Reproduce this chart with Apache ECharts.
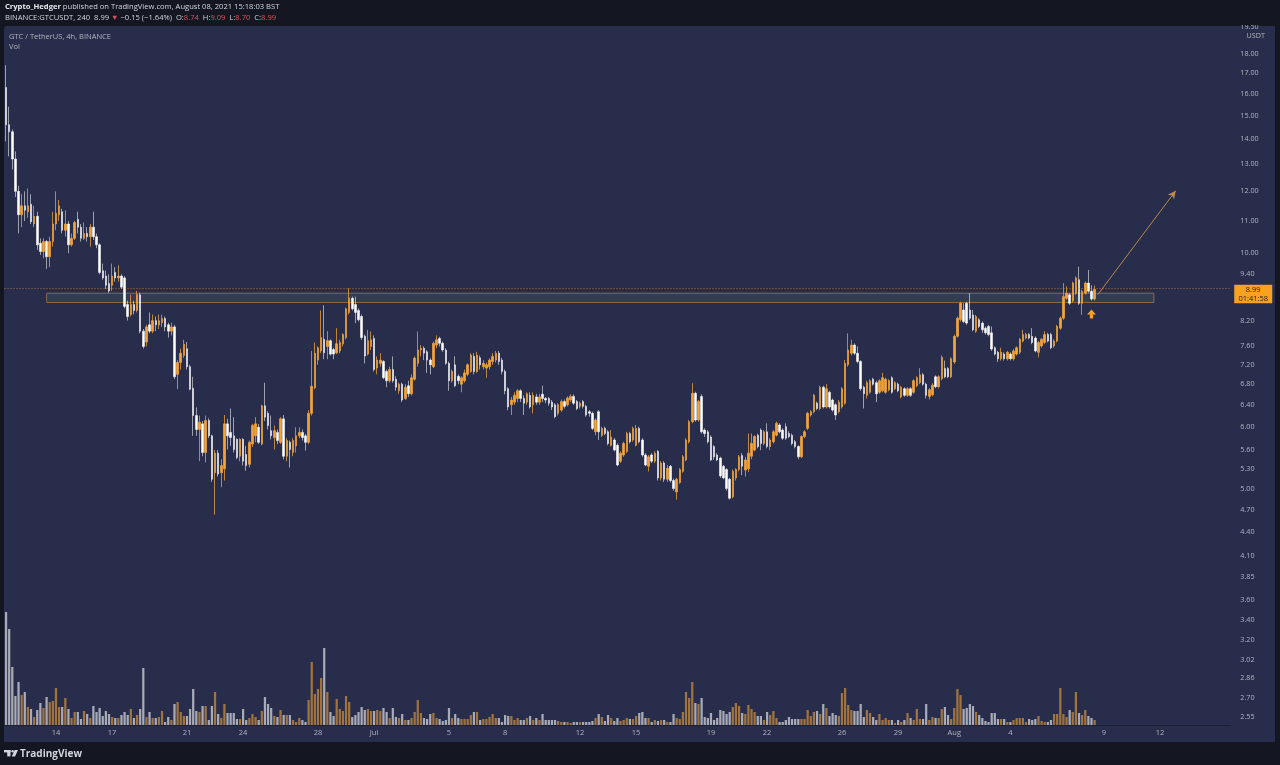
<!DOCTYPE html>
<html>
<head>
<meta charset="utf-8">
<script src="https://cdn.jsdelivr.net/npm/echarts@6/dist/echarts.min.js"></script>
<style>
html,body{margin:0;padding:0;background:#141722;}
#chart{width:1280px;height:765px;}
</style>
</head>
<body>
<div id="chart"></div>
<script>
// ---- GTC/USDT 4h candles (Binance) ----
const open = [
16.3,14.6,14.3,13.2,12.0,11.2,11.5,11.3,11.55,10.9,
11.15,10.3,10.05,10.35,9.9,10.35,10.9,11.2,11.3,10.7,
10.9,10.25,10.45,11.05,10.8,10.45,10.6,10.5,10.8,10.5,
10.25,9.5,9.35,9.15,9.1,9.45,9.3,9.35,9.3,8.6,
8.35,8.6,8.45,8.85,7.95,7.7,8.1,7.95,8.2,8.1,
8.15,8.25,8.1,7.95,8.05,7.0,7.25,7.4,7.55,7.16,
6.72,6.2,5.95,6.05,5.56,6.11,5.84,5.24,5.55,5.24,
5.3,6.05,5.9,5.84,5.78,5.5,5.78,5.53,5.37,5.7,
5.84,5.99,5.70,6.38,6.24,5.93,5.81,5.9,5.73,6.14,
5.5,5.73,5.56,5.67,5.84,5.9,5.84,5.73,6.24,6.73,
7.3,7.5,7.76,7.6,7.73,7.53,7.46,7.5,7.66,7.8,
8.4,8.76,8.6,8.45,8.3,7.83,7.43,7.6,7.78,7.13,
7.23,7.27,7.06,6.87,7.10,6.9,6.67,6.8,6.52,6.77,
6.61,6.9,7.23,7.52,7.56,7.48,7.3,7.16,7.63,7.78,
7.67,7.52,7.23,6.87,7.2,6.96,6.80,6.87,7.0,7.06,
7.38,7.06,7.35,7.16,7.13,7.16,7.27,7.30,7.45,7.3,
7.06,6.71,6.40,6.45,6.52,6.67,6.52,6.45,6.58,6.40,
6.55,6.45,6.6,6.52,6.52,6.45,6.40,6.24,6.30,6.46,
6.40,6.49,6.56,6.46,6.37,6.46,6.37,6.27,6.24,5.91,
6.27,5.85,5.97,5.91,5.68,5.77,5.68,5.42,5.52,5.58,
5.88,5.77,5.68,5.97,5.77,5.52,5.34,5.52,5.42,5.58,
5.16,5.39,5.14,5.34,5.12,4.95,5.09,5.26,5.44,5.74,
6.09,6.62,6.12,6.56,5.94,5.91,5.82,5.66,5.52,5.47,
5.34,5.29,5.14,4.88,5.16,5.29,5.51,5.28,5.30,5.50,
5.60,5.85,5.94,5.71,5.91,5.66,5.74,5.85,6.03,5.94,
6.0,5.88,5.85,5.74,5.66,5.49,5.83,5.97,6.21,6.27,
6.43,6.33,6.74,6.36,6.64,6.49,6.40,6.27,6.36,6.43,
7.20,7.45,7.63,7.45,7.27,6.74,6.58,6.64,6.90,6.83,
6.64,6.67,6.64,6.69,6.93,6.71,6.80,6.55,6.71,6.58,
6.71,6.64,6.77,6.83,6.99,6.80,6.56,6.59,6.95,6.75,
6.91,7.12,7.12,6.95,7.26,7.83,8.22,8.46,8.63,8.46,
8.34,7.95,8.22,8.14,8.02,8.06,7.91,7.57,7.47,7.33,
7.43,7.33,7.43,7.33,7.43,7.47,7.72,7.79,7.87,7.83,
7.79,7.47,7.61,7.69,7.87,7.87,7.61,7.72,8.02,8.26,
8.76,8.85,8.69,8.89,9.25,8.63,8.89,9.16,8.94,8.74
];
const high = [
17.4,15.4,14.4,13.5,12.2,11.9,12.0,12.1,11.9,11.5,
11.3,10.45,10.45,10.4,10.5,11.3,12.0,11.7,11.4,11.35,
11.0,10.6,11.0,11.3,10.9,10.95,10.8,10.9,11.3,10.6,
10.3,9.7,9.5,9.4,9.7,9.6,9.65,9.4,9.35,8.7,
8.85,8.7,8.95,8.9,8.0,8.1,8.4,8.35,8.3,8.35,
8.35,8.3,8.15,8.15,8.1,7.3,7.55,7.75,7.7,7.2,
6.95,6.35,6.2,6.1,6.2,6.15,5.86,5.6,5.6,5.45,
6.21,6.14,6.33,6.17,5.8,5.8,5.8,5.67,5.76,6.05,
6.17,6.05,6.4,6.83,6.28,6.2,6.02,5.95,6.17,6.21,
5.8,5.76,5.8,5.99,5.99,5.95,5.87,6.3,7.5,7.69,
7.6,8.45,8.58,7.95,7.76,7.57,8.02,7.75,7.9,8.52,
9.02,8.8,8.8,8.5,8.35,7.87,7.98,7.94,7.85,7.38,
7.45,7.3,7.1,7.16,7.38,6.96,6.83,6.83,6.8,6.87,
7.0,7.38,7.94,7.63,7.6,7.52,7.34,7.71,7.85,7.82,
7.71,7.56,7.27,7.1,7.38,7.0,6.96,7.10,7.23,7.45,
7.45,7.48,7.4,7.3,7.25,7.34,7.45,7.50,7.5,7.35,
7.1,6.74,6.55,6.64,6.7,6.7,6.58,6.64,6.64,6.64,
6.61,6.61,6.77,6.55,6.55,6.49,6.43,6.43,6.5,6.5,
6.56,6.6,6.6,6.49,6.46,6.49,6.4,6.3,6.27,6.15,
6.30,6.0,6.0,5.94,5.94,5.8,5.71,5.58,5.74,5.91,
5.91,6.0,6.03,6.0,5.8,5.55,5.52,5.55,5.58,5.6,
5.42,5.42,5.36,5.36,5.15,5.16,5.31,5.52,5.8,6.12,
6.82,6.65,6.49,6.6,5.97,5.94,5.85,5.68,5.55,5.49,
5.36,5.31,5.16,5.29,5.31,5.52,5.55,5.49,5.88,5.88,
5.85,5.88,5.97,5.94,6.06,5.8,5.94,6.09,6.06,5.97,
6.06,5.92,5.88,5.77,5.68,5.85,5.94,6.27,6.30,6.61,
6.46,6.77,6.77,6.8,6.67,6.52,6.43,6.49,6.74,7.3,
7.90,7.75,7.67,7.6,7.3,6.77,6.87,6.9,6.93,6.87,
6.9,7.03,6.93,6.9,6.96,6.86,6.83,6.77,6.74,6.74,
6.74,6.9,6.96,7.13,7.03,6.83,6.72,6.82,6.98,6.98,
7.4,7.29,7.15,7.36,7.87,8.3,8.67,8.63,8.67,8.89,
8.46,8.34,8.26,8.18,8.06,8.1,8.06,7.6,7.5,7.57,
7.47,7.5,7.47,7.54,7.6,7.79,7.98,7.91,7.91,8.02,
7.83,7.72,7.79,7.95,7.91,7.91,7.76,8.1,8.3,9.16,
9.07,8.89,9.2,9.34,9.61,8.98,9.2,9.52,9.1,9.09
];
const low = [
13.9,13.3,12.8,11.8,10.6,10.8,11.0,11.1,10.9,10.8,
10.1,9.95,9.85,9.55,9.6,10.2,10.7,11.0,10.6,10.5,
10.0,10.2,10.4,10.6,10.35,10.4,10.35,10.2,10.4,10.15,
9.4,9.25,9.0,8.9,8.95,9.2,9.2,9.0,8.5,8.2,
8.3,8.35,8.4,7.9,7.55,7.6,7.9,7.9,7.95,8.0,
8.05,7.95,7.8,7.85,6.9,6.7,7.1,7.35,7.1,6.68,
5.84,5.84,5.42,5.5,5.4,5.8,5.1,4.63,5.18,5.02,
5.12,5.61,5.67,5.56,5.45,5.42,5.35,5.27,5.32,5.65,
5.73,5.7,5.68,6.1,5.95,5.78,5.61,5.7,5.7,5.45,
5.42,5.32,5.5,5.56,5.8,5.76,5.59,5.7,6.2,6.7,
7.2,7.45,7.32,7.32,7.4,7.32,7.43,7.45,7.6,7.76,
8.35,8.45,8.14,8.18,7.75,7.23,7.4,7.52,7.06,7.0,
7.16,6.9,6.74,6.83,6.83,6.67,6.61,6.45,6.49,6.55,
6.58,6.87,7.16,7.38,7.3,7.03,7.0,7.13,7.56,7.6,
7.48,7.2,6.67,6.83,6.74,6.8,6.64,6.83,6.96,7.03,
7.0,7.03,7.1,7.1,6.93,7.1,7.2,7.25,7.2,7.0,
6.6,6.3,6.21,6.4,6.45,6.45,6.21,6.4,6.33,6.24,
6.4,6.4,6.45,6.43,6.38,6.3,6.15,6.2,6.27,6.33,
6.37,6.45,6.4,6.3,6.33,6.33,6.18,6.18,5.94,5.85,
5.77,5.82,5.85,5.68,5.66,5.58,5.34,5.39,5.49,5.55,
5.71,5.74,5.66,5.71,5.49,5.34,5.26,5.39,5.39,5.12,
5.12,5.1,5.1,5.09,4.97,4.84,5.07,5.24,5.42,5.71,
6.06,6.09,6.09,5.88,5.82,5.71,5.42,5.44,5.42,5.16,
5.14,4.97,4.84,4.86,5.12,5.26,5.2,5.18,5.25,5.45,
5.58,5.63,5.6,5.68,5.63,5.6,5.71,5.83,5.88,5.77,
5.77,5.80,5.68,5.63,5.45,5.47,5.8,5.94,6.18,6.24,
6.3,6.3,6.33,6.33,6.33,6.27,6.12,6.24,6.33,6.4,
7.16,7.4,7.41,7.23,6.67,6.33,6.52,6.61,6.77,6.45,
6.61,6.64,6.61,6.66,6.61,6.68,6.64,6.52,6.55,6.55,
6.55,6.61,6.74,6.8,6.77,6.52,6.5,6.56,6.72,6.72,
6.88,6.92,6.92,6.92,7.22,7.8,8.18,8.14,8.1,8.22,
7.95,7.91,8.02,7.91,7.87,7.83,7.5,7.4,7.26,7.29,
7.29,7.29,7.29,7.29,7.4,7.43,7.69,7.76,7.76,7.65,
7.47,7.36,7.57,7.65,7.69,7.54,7.57,7.69,7.98,8.22,
8.72,8.59,8.65,8.85,8.59,8.34,8.85,8.9,8.7,8.70
];
const close = [
14.6,14.3,13.2,12.0,11.2,11.5,11.35,11.5,10.97,11.15,
10.25,10.05,10.35,9.9,10.35,10.9,11.25,11.5,10.7,10.9,
10.25,10.45,10.95,10.8,10.45,10.6,10.5,10.8,10.5,10.25,
9.45,9.3,9.1,8.95,9.35,9.3,9.35,9.05,8.55,8.3,
8.6,8.45,8.85,7.95,7.6,8.05,7.95,8.2,8.1,8.2,
8.25,8.05,7.95,8.05,6.95,7.25,7.45,7.65,7.16,6.70,
6.20,5.95,6.08,5.56,6.11,5.84,5.14,5.55,5.22,5.35,
6.05,5.84,5.81,5.61,5.48,5.78,5.42,5.35,5.73,6.02,
6.05,5.73,6.38,6.17,6.02,5.84,5.93,5.76,6.14,5.5,
5.76,5.61,5.76,5.84,5.9,5.81,5.73,6.24,6.76,7.45,
7.57,7.8,7.46,7.73,7.43,7.43,7.66,7.69,7.87,8.49,
8.76,8.49,8.4,8.22,7.8,7.39,7.73,7.75,7.10,7.30,
7.30,6.93,6.87,7.10,6.87,6.74,6.80,6.49,6.74,6.61,
6.93,7.34,7.52,7.56,7.45,7.3,7.2,7.67,7.75,7.67,
7.52,7.23,6.87,7.06,6.77,6.87,6.93,7.03,7.20,7.41,
7.06,7.41,7.2,7.23,7.20,7.30,7.38,7.45,7.27,7.06,
6.67,6.36,6.49,6.58,6.67,6.52,6.43,6.61,6.36,6.58,
6.45,6.55,6.52,6.49,6.43,6.36,6.18,6.40,6.46,6.37,
6.53,6.56,6.43,6.33,6.43,6.37,6.21,6.24,5.97,6.12,
5.91,5.97,5.88,5.71,5.82,5.60,5.36,5.55,5.71,5.88,
5.74,5.97,5.97,5.74,5.52,5.36,5.49,5.42,5.55,5.16,
5.39,5.14,5.31,5.12,5.0,5.14,5.29,5.49,5.77,6.09,
6.62,6.12,6.46,5.91,5.88,5.74,5.44,5.49,5.44,5.19,
5.16,5.00,4.86,5.26,5.29,5.49,5.34,5.44,5.55,5.71,
5.83,5.66,5.71,5.91,5.66,5.77,5.91,6.06,5.91,5.80,
5.80,5.83,5.71,5.66,5.49,5.83,5.91,6.24,6.27,6.58,
6.33,6.74,6.36,6.71,6.36,6.30,6.21,6.45,6.71,7.23,
7.52,7.63,7.45,7.27,6.71,6.61,6.83,6.87,6.80,6.61,
6.87,6.93,6.90,6.87,6.64,6.83,6.67,6.74,6.58,6.71,
6.58,6.87,6.93,6.99,6.80,6.58,6.69,6.78,6.75,6.95,
7.36,6.95,6.95,7.33,7.83,8.26,8.63,8.18,8.14,8.26,
7.98,8.30,8.06,7.98,7.91,7.87,7.54,7.43,7.33,7.47,
7.33,7.47,7.33,7.50,7.57,7.76,7.87,7.87,7.79,7.69,
7.50,7.69,7.76,7.87,7.72,7.57,7.72,8.06,8.26,8.80,
8.89,8.63,9.16,9.30,8.63,8.94,9.16,8.94,8.74,8.99
];
// volume, relative units
const volume = [
113,96,58,29,43,30,33,18,16,8,
15,22,17,28,23,24,37,18,18,27,
16,7,13,13,6,14,11,7,19,13,
17,9,14,11,8,7,7,10,13,10,
16,7,10,16,57,8,13,7,7,8,
14,3,8,5,21,23,13,9,9,16,
36,14,13,19,19,5,19,33,11,7,
21,12,12,12,6,6,16,5,7,11,
8,5,14,28,21,17,9,8,15,10,
10,10,5,3,7,5,3,25,63,31,
36,47,77,33,13,9,26,16,14,29,
23,8,10,13,18,15,16,14,14,15,
14,17,13,7,17,8,7,11,5,5,
7,13,25,12,7,6,11,12,7,6,
4,5,17,7,11,7,6,6,6,10,
13,13,5,6,6,8,11,7,7,3,
10,9,9,5,7,5,5,7,9,5,
7,5,11,5,5,5,5,4,3,3,
3,2,3,3,3,3,3,3,4,7,
11,8,4,10,7,4,7,4,5,7,
6,6,9,12,13,7,7,3,5,4,
5,5,3,3,11,7,6,13,33,27,
43,22,21,27,8,7,12,5,7,15,
14,11,13,18,22,19,12,11,20,16,
13,9,9,5,13,10,14,7,3,3,
5,8,6,6,6,6,6,15,9,13,
14,11,21,17,9,12,10,9,32,37,
20,15,14,14,21,8,15,12,8,5,
11,5,7,5,5,2,5,3,5,12,
7,5,16,6,6,21,5,8,7,7,
16,18,10,6,17,36,30,16,17,21,
19,13,10,7,4,3,12,12,6,6,
6,3,3,5,7,7,7,3,6,5,
6,9,4,3,3,5,11,11,37,11,
8,15,13,33,12,10,15,9,7,5
];
// right-axis labels (USDT, log scale) and date labels
const priceTicks = [19.5,18,17,16,15,14,13,12,11,10,9.4,8.2,7.6,7.2,6.8,6.4,6.0,5.6,5.3,5.0,4.7,4.4,4.1,3.85,3.6,3.4,3.2,3.02,2.86,2.7,2.55];
const dateTicks = ['2021-06-14','2021-06-17','2021-06-21','2021-06-24','2021-06-28','2021-07-01','2021-07-05','2021-07-08','2021-07-12','2021-07-15','2021-07-19','2021-07-22','2021-07-26','2021-07-29','2021-08-01','2021-08-04','2021-08-09','2021-08-12'];
const priceRange = [2.492, 19.53];
// annotations
const lastPrice = 8.99;
const countdown = '01:41:58';
const zoneSlots = [13, 368];
const zonePrices = [8.89, 8.65];
const arrowSlots = [350, 375];
const arrowPrices = [8.85, 12.02];
const markerSlot = 348;
const markerPrice = 8.36;

// time slots (4h), including empty future slots to the right
const SLOT_COUNT = 393;
const t0 = Date.UTC(2021, 5, 11, 8);
const slots = [];
for (let k = 0; k < SLOT_COUNT; k++) {
  slots.push(new Date(t0 + k * 4 * 3600000).toISOString().slice(0, 13));
}
const MONTHS = ['Jan','Feb','Mar','Apr','May','Jun','Jul','Aug','Sep','Oct','Nov','Dec'];

const L = Math.log;
const candleData = open.map((o, i) => [L(o), L(close[i]), L(low[i]), L(high[i])]);
const UP = '#f2a33a', DOWN = '#ffffff';
const volData = volume.map((v, i) => ({
  value: v,
  itemStyle: { color: close[i] >= open[i] ? 'rgba(242,163,58,0.6)' : 'rgba(255,255,255,0.6)' }
}));

const FONT = '"Open Sans", "Noto Sans", sans-serif';
const TXT = '#b2b5be';

const chart = echarts.init(document.getElementById('chart'), null, { renderer: 'canvas' });
chart.setOption({
  backgroundColor: '#141722',
  animation: false,
  textStyle: { fontFamily: FONT },
  grid: [
    { left: 4.5, right: 49.7, top: 26, bottom: 40 },
    { left: 4.5, right: 49.7, top: 575, bottom: 40 }
  ],
  xAxis: [
    {
      type: 'category', gridIndex: 0, data: slots, boundaryGap: true,
      axisLine: { show: true, lineStyle: { color: '#1c2034', width: 1 } },
      axisTick: { show: false },
      splitLine: { show: false },
      axisLabel: {
        color: TXT, fontSize: 7.5, margin: 4, fontFamily: FONT,
        interval: (idx, val) => val.slice(11, 13) === '00' && dateTicks.includes(val.slice(0, 10)),
        formatter: (val) => {
          const d = +val.slice(8, 10);
          return d === 1 ? MONTHS[+val.slice(5, 7) - 1] : String(d);
        }
      }
    },
    { type: 'category', gridIndex: 1, data: slots, boundaryGap: true, show: false }
  ],
  yAxis: [
    {
      type: 'value', gridIndex: 0, position: 'right',
      min: L(priceRange[0]), max: L(priceRange[1]),
      splitLine: { show: false }, axisLine: { show: false }, axisTick: { show: false },
      axisLabel: {
        customValues: priceTicks.map(L),
        formatter: (v) => Math.exp(v).toFixed(2),
        color: TXT, fontSize: 7.2, margin: 10, fontFamily: FONT
      }
    },
    { type: 'value', gridIndex: 1, min: 0, max: 150, show: false }
  ],
  series: [
    {
      type: 'bar', name: 'Vol', xAxisIndex: 1, yAxisIndex: 1,
      data: volData, barWidth: '72%', silent: true
    },
    {
      type: 'candlestick', name: 'GTCUSDT', xAxisIndex: 0, yAxisIndex: 0,
      data: candleData, barWidth: 2, silent: true,
      itemStyle: {
        color: UP, color0: DOWN,
        borderColor: 'rgba(242,163,58,0.75)', borderColor0: 'rgba(255,255,255,0.55)',
        borderWidth: 1
      },
      markArea: {
        silent: true,
        itemStyle: { color: 'rgba(135,128,128,0.16)', borderColor: 'rgba(195,140,75,0.6)', borderWidth: 1 },
        data: [[
          { xAxis: slots[zoneSlots[0]], yAxis: L(zonePrices[0]) },
          { xAxis: slots[zoneSlots[1]], yAxis: L(zonePrices[1]) }
        ]]
      },
      markLine: {
        silent: true, symbol: ['none', 'none'],
        label: { show: false },
        data: [
          {
            yAxis: L(lastPrice),
            lineStyle: { type: [1, 2], color: 'rgba(242,163,58,0.6)', width: 1 },
            label: { show: false }
          },
          [
            { coord: [slots[arrowSlots[0]], L(arrowPrices[0])], symbol: 'none',
              lineStyle: { type: 'solid', color: 'rgba(212,150,70,0.85)', width: 1 }, label: { show: false } },
            { coord: [slots[arrowSlots[1]], L(arrowPrices[1])], symbol: 'arrow', symbolSize: [6, 8],
              lineStyle: { type: 'solid', color: 'rgba(212,150,70,0.85)', width: 1 }, label: { show: false } }
          ]
        ]
      },
      markPoint: {
        silent: true,
        data: [
          {
            coord: [slots[markerSlot], L(markerPrice)],
            symbol: 'path://M5,0L10,5.5L6.8,5.5L6.8,10L3.2,10L3.2,5.5L0,5.5Z',
            symbolSize: [9, 9],
            itemStyle: { color: '#f8a21f' },
            label: { show: false }
          },
          {
            coord: [slots[SLOT_COUNT - 1], L(lastPrice)],
            symbol: 'rect', symbolSize: [38, 18.5], symbolOffset: [24.5, 4.5],
            itemStyle: { color: '#f8a21f' },
            label: {
              show: true, position: 'inside',
              formatter: lastPrice.toFixed(2) + '\n' + countdown,
              color: '#2a2110', fontSize: 7.5, lineHeight: 9, fontFamily: FONT, align: 'center'
            }
          }
        ]
      }
    }
  ],
  graphic: [
    { type: 'rect', z: -10, silent: true, shape: { x: 4, y: 26, width: 1271, height: 716, r: [3, 0, 0, 0] }, style: { fill: '#272d4a' } },
    { type: 'rect', z: 50, silent: true, shape: { x: 0, y: 0, width: 1280, height: 25 }, style: { fill: '#141722' } },
    { type: 'text', z: 51, x: 5, y: 7, silent: true, style: {
      text: '{b|Crypto_Hedger} published on TradingView.com, August 08, 2021 15:18:03 BST',
      fill: '#d1d4dc', fontSize: 7.6, fontFamily: FONT, verticalAlign: 'middle',
      rich: { b: { fontWeight: 'bold', fill: '#e6e8ee', fontSize: 7.6, fontFamily: FONT } }
    } },
    { type: 'text', z: 51, x: 5, y: 17.5, silent: true, style: {
      text: 'BINANCE:GTCUSDT, 240  8.99 {r|▼} −0.15 (−1.64%)  O:{r|8.74}  H:{r|9.09}  L:{r|8.70}  C:{r|8.99}',
      fill: '#d1d4dc', fontSize: 7.6, fontFamily: FONT, verticalAlign: 'middle',
      rich: { r: { fill: '#e0505a', fontSize: 7.6, fontFamily: FONT } }
    } },
    { type: 'text', z: 51, x: 9, y: 36.7, silent: true, style: { text: 'GTC / TetherUS, 4h, BINANCE', fill: TXT, fontSize: 7.5, fontFamily: FONT, verticalAlign: 'middle' } },
    { type: 'text', z: 51, x: 9, y: 47.3, silent: true, style: { text: 'Vol', fill: TXT, fontSize: 7.5, fontFamily: FONT, verticalAlign: 'middle' } },
    { type: 'text', z: 51, x: 1246.5, y: 36, silent: true, style: { text: 'USDT', fill: TXT, fontSize: 7.2, fontFamily: FONT, verticalAlign: 'middle' } },
    { type: 'rect', z: 51, silent: true, shape: { x: 4, y: 750, width: 6.5, height: 2.4 }, style: { fill: '#d1d4dc' } },
    { type: 'rect', z: 51, silent: true, shape: { x: 7.2, y: 750, width: 3.3, height: 6.4 }, style: { fill: '#d1d4dc' } },
    { type: 'circle', z: 51, silent: true, shape: { cx: 12.6, cy: 751.2, r: 1.25 }, style: { fill: '#d1d4dc' } },
    { type: 'polygon', z: 51, silent: true, shape: { points: [[14.6, 750], [18, 750], [15, 756.4], [11.8, 756.4]] }, style: { fill: '#d1d4dc' } },
    { type: 'text', z: 51, x: 20, y: 754, silent: true, style: { text: 'TradingView', fill: '#d1d4dc', fontSize: 10, fontWeight: 'bold', fontFamily: FONT, verticalAlign: 'middle' } }
  ]
});
</script>
</body>
</html>
